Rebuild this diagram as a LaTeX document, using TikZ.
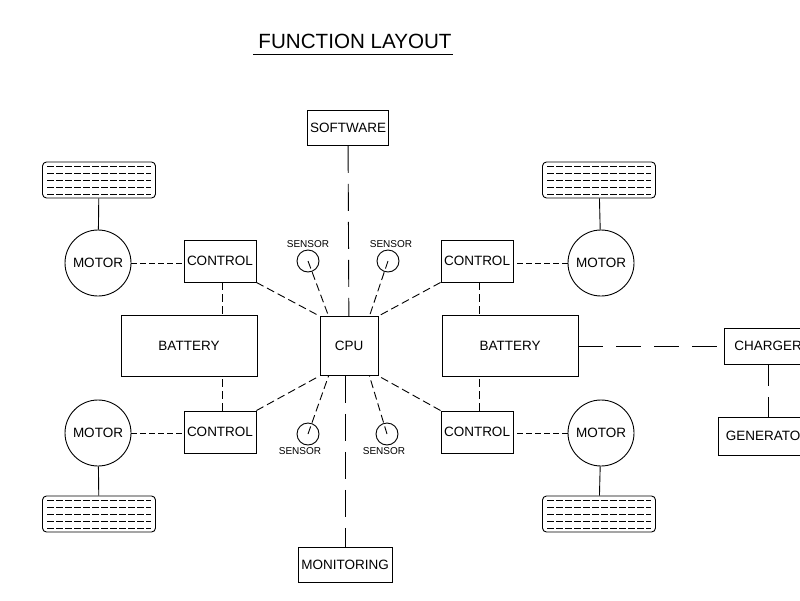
\documentclass[tikz,border=0pt]{standalone}
\usepackage{fontspec}
\setmainfont{Liberation Sans}
\usepackage{tikz}
\usetikzlibrary{positioning,calc}

\begin{document}
\begin{tikzpicture}[x=1pt,y=-1pt,line width=0.9pt,font=\fontsize{13.5}{16}\selectfont]
  \tikzset{unit/.style={draw,inner sep=0pt,align=center},
           motor/.style={draw,circle,minimum size=66pt,inner sep=0pt},
           wheel/.style={draw,rounded corners=4pt,minimum width=113pt,minimum height=36pt,inner sep=0pt},
           sensor/.style={draw,circle,minimum size=22pt,inner sep=0pt},
           senstext/.style={font=\fontsize{10}{12}\selectfont,inner sep=0pt},
           tread/.style={line width=0.7pt,dash pattern=on 7pt off 2pt},
           wire/.style={dash pattern=on 6pt off 3pt},
           link/.style={dash pattern=on 8pt off 4pt},
           bus/.style={dash pattern=on 27pt off 11pt}}
  \useasboundingbox (0,0) rectangle (800,600);
  \clip (0,0) rectangle (800,600);
  \node[font=\fontsize{20.6}{24}\selectfont,inner sep=0pt] (title) at (355,41) {FUNCTION LAYOUT};
  \draw ($(title.south west)+(-5,6)$) -- ($(title.south east)+(1,6)$);
  % centre column
  \node[unit,minimum width=81pt,minimum height=35pt] (soft) at (348,128) {SOFTWARE};
  \node[unit,minimum width=58pt,minimum height=59pt] (cpu) at (349,346) {CPU};
  \node[unit,minimum width=94pt,minimum height=35pt] (mon) at (345,565) {MONITORING};
  % sensors
  \node[sensor] (s1) at (308,261) {};
  \node[sensor] (s2) at (388,261) {};
  \node[sensor] (s3) at (308,434) {};
  \node[sensor] (s4) at (387,434) {};
  \node[senstext,above=1.5pt of s1] (l1) {SENSOR};
  \node[senstext,above=1.5pt of s2,xshift=3pt] (l2) {SENSOR};
  \node[senstext,below=1.5pt of s3,xshift=-8pt] (l3) {SENSOR};
  \node[senstext,below=1.5pt of s4,xshift=-3pt] (l4) {SENSOR};
  % controls and batteries
  \node[unit,minimum width=72pt,minimum height=42pt] (c1) at (220,261) {CONTROL};
  \node[unit,minimum width=72pt,minimum height=42pt] (c2) at (220,432) {CONTROL};
  \node[unit,minimum width=72pt,minimum height=42pt] (c3) at (477,261) {CONTROL};
  \node[unit,minimum width=72pt,minimum height=42pt] (c4) at (477,432) {CONTROL};
  \node[unit,minimum width=136pt,minimum height=61pt] (b1) at (189,346) {BATTERY};
  \node[unit,minimum width=136pt,minimum height=61pt] (b2) at (510,346) {BATTERY};
  % motors and wheels
  \node[motor] (m1) at (98,263) {MOTOR};
  \node[motor] (m2) at (98,433) {MOTOR};
  \node[motor] (m3) at (601,263) {MOTOR};
  \node[motor] (m4) at (601,433) {MOTOR};
  \node[wheel] (w1) at (99,180) {};
  \node[wheel] (w2) at (99,514) {};
  \node[wheel] (w3) at (599,180) {};
  \node[wheel] (w4) at (599,514) {};
  \foreach \w in {w1,w2,w3,w4}
    \foreach \dy in {-14,-7,0,7,14}
      \draw[tread] ($(\w.west)+(5,\dy)$) -- ($(\w.east)+(-5,\dy)$);
  % charging side
  \node[unit,minimum width=88pt,minimum height=36pt] (chg) at (768,346) {CHARGER};
  \node[unit,minimum width=100pt,minimum height=38pt] (gen) at (768,436) {GENERATOR};
  % connections
  \draw[bus] (soft) -- (cpu);
  \draw[bus] (cpu.south -| mon.north) -- (mon.north);
  \draw[dash pattern=on 25pt off 13pt] (b2) -- (chg);
  \draw[dash pattern=on 22pt off 11pt] (chg) -- (gen);
  \foreach \w/\m in {w1/m1,w2/m2,w3/m3,w4/m4}
    \draw (\w) -- (\m);
  \foreach \m/\c in {m1/c1,m2/c2}
    \draw[wire] (\m.east) -- (\m.east -| \c.west);
  \foreach \m/\c in {m3/c3,m4/c4}
    \draw[wire] (\m.west) -- (\m.west -| \c.east);
  \foreach \c/\a/\b/\e in {c1/south/b1/north,c2/north/b1/south,c3/south/b2/north,c4/north/b2/south}
    \draw[link] ([xshift=2pt]\c.\a) -- ([xshift=2pt]\c.\a |- \b.\e);
  \draw[link] (c1.south east) -- (cpu.north west);
  \draw[link] (c2.north east) -- (cpu.south west);
  \draw[link] (c3.south west) -- (cpu.north east);
  \draw[link] (c4.north west) -- (cpu.south east);
  \draw[link] (s1.center) -- ([xshift=9pt]cpu.north west);
  \draw[link] (s2.center) -- ([xshift=-9pt]cpu.north east);
  \draw[link] (s3.center) -- ([xshift=9pt]cpu.south west);
  \draw[link] (s4.center) -- ([xshift=-9pt]cpu.south east);
\end{tikzpicture}
\end{document}
